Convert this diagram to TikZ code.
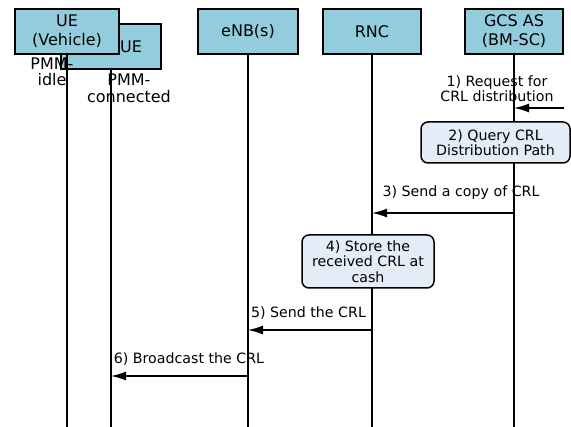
\documentclass[tikz,border=0pt]{standalone}
\usepackage{fontspec}
\setmainfont{DejaVu Sans}
\usetikzlibrary{arrows.meta}
\definecolor{hdrfill}{HTML}{93CDDD}
\definecolor{actfill}{HTML}{E4ECF7}
\tikzset{
  hdr/.style={draw=black, line width=1.5pt, fill=hdrfill, minimum height=45pt, inner sep=1pt,
    align=center, font=\fontsize{16}{19}\selectfont},
  act/.style={draw=black, line width=1.5pt, fill=actfill, rounded corners=7pt, inner sep=1pt,
    align=center, font=\fontsize{14.2}{15.5}\selectfont},
  life/.style={line width=1.5pt},
  msg/.style={line width=1.5pt, -{Latex[length=15pt,width=9pt]}},
  lbl/.style={align=center, inner sep=0pt, font=\fontsize{14.2}{13.5}\selectfont},
  pmm/.style={align=center, inner sep=0pt, font=\fontsize{16}{16.5}\selectfont}
}
\begin{document}
\begin{tikzpicture}[x=1pt,y=-1pt]
\useasboundingbox (0,0) rectangle (571,427);
% header boxes
\node[hdr, minimum width=100pt] (ue) at (111,46.5) {\hspace*{40pt}UE};
\node[hdr, minimum width=104pt] (veh) at (67,31.5) {UE\\(Vehicle)};
\node[hdr, minimum width=100pt] (enb) at (248,31.5) {eNB(s)};
\node[hdr, minimum width=98pt] (rnc) at (372,31.5) {RNC};
\node[hdr, minimum width=98pt] (gcs) at (514,31.5) {GCS AS\\(BM-SC)};
% lifeline ends
\coordinate (vehE) at (67,427);
\coordinate (ueE) at (111,427);
\coordinate (enbE) at (248,427);
\coordinate (rncE) at (372,427);
\coordinate (gcsE) at (514,427);
\draw[life] (veh.south) -- (vehE);
\draw[life] (ue.south) -- (ueE);
\draw[life] (enb.south) -- (enbE);
\draw[life] (rnc.south) -- (rncE);
\draw[life] (gcs.south) -- (gcsE);
% state labels
\node[pmm] (pidle) at (52,72) {PMM-\\idle};
\node[pmm] (pconn) at (129,88.5) {PMM-\\connected};
% message 1
\coordinate (m1s) at (564,108);
\coordinate (m1e) at (514,108);
\draw[msg] (m1s) -- (m1e);
\node[lbl] (l1) at (497,88.5) {1) Request for\\CRL distribution};
% action 2
\node[act, minimum width=149pt, minimum height=41pt] (a2) at (495.5,142.5) {2) Query CRL\\Distribution Path};
% message 3
\coordinate (m3s) at (514,213);
\coordinate (m3e) at (372,213);
\draw[msg] (m3s) -- (m3e);
\node[lbl] (l3) at (461,193) {3) Send a copy of CRL};
% action 4
\node[act, minimum width=132pt, minimum height=53pt] (a4) at (368,261.5) {4) Store the\\received CRL at\\cash};
% message 5
\coordinate (m5s) at (372,330);
\coordinate (m5e) at (248,330);
\draw[msg] (m5s) -- (m5e);
\node[lbl] (l5) at (308.5,313) {5) Send the CRL};
% message 6
\coordinate (m6s) at (248,376);
\coordinate (m6e) at (111,376);
\draw[msg] (m6s) -- (m6e);
\node[lbl] (l6) at (189,359) {6) Broadcast the CRL};
\end{tikzpicture}
\end{document}
